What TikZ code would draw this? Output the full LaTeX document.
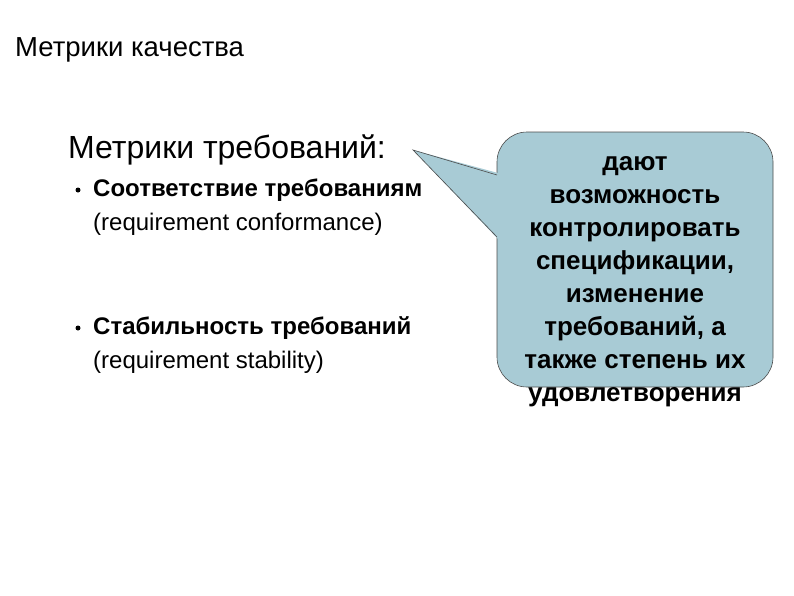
\documentclass[tikz,border=0pt]{standalone}
\usepackage{fontspec}
\setmainfont{Liberation Sans}
\definecolor{callout}{RGB}{168,203,213}
\begin{document}
\begin{tikzpicture}[x=1pt,y=-1pt,
  bodytext/.style={anchor=west,inner sep=0pt,font=\fontsize{24}{26}\selectfont\bfseries},
  subtext/.style={anchor=west,inner sep=0pt,font=\fontsize{24}{27}\selectfont},
  bullet/.style={circle,fill=black,inner sep=0pt,minimum size=5pt},
  edge/.style={draw=black!70,line width=0.6pt}]
\useasboundingbox (0,0) rectangle (794,595);
\node[anchor=west,inner sep=0pt,font=\fontsize{27.5}{30}\selectfont] (title) at (15,50) {Метрики качества};
\node[anchor=west,inner sep=0pt,font=\fontsize{32}{36}\selectfont] (head) at (68,150) {Метрики требований:};
\node[bullet] (b1) at (78,190) {};
\node[bodytext] (t1) at (93,190) {Соответствие требованиям};
\node[subtext] (t1b) at (93,224) {(requirement conformance)};
\node[bullet] (b2) at (78,328) {};
\node[bodytext] (t2) at (93,328) {Стабильность требований};
\node[subtext] (t2b) at (93,362) {(requirement stability)};
\draw[edge,fill=callout,rounded corners=30pt] (497,132) rectangle (773,387);
\fill[callout] (498,173) -- (413,150) -- (498,239) -- cycle;
\draw[edge] (497,175) -- (413,150) -- (497,237);
\node[align=center,inner sep=0pt,font=\fontsize{26}{33}\selectfont\bfseries,anchor=north] (call) at (635,156)
 {дают\\возможность\\контролировать\\спецификации,\\изменение\\требований, а\\также степень их\\удовлетворения};
\end{tikzpicture}
\end{document}
